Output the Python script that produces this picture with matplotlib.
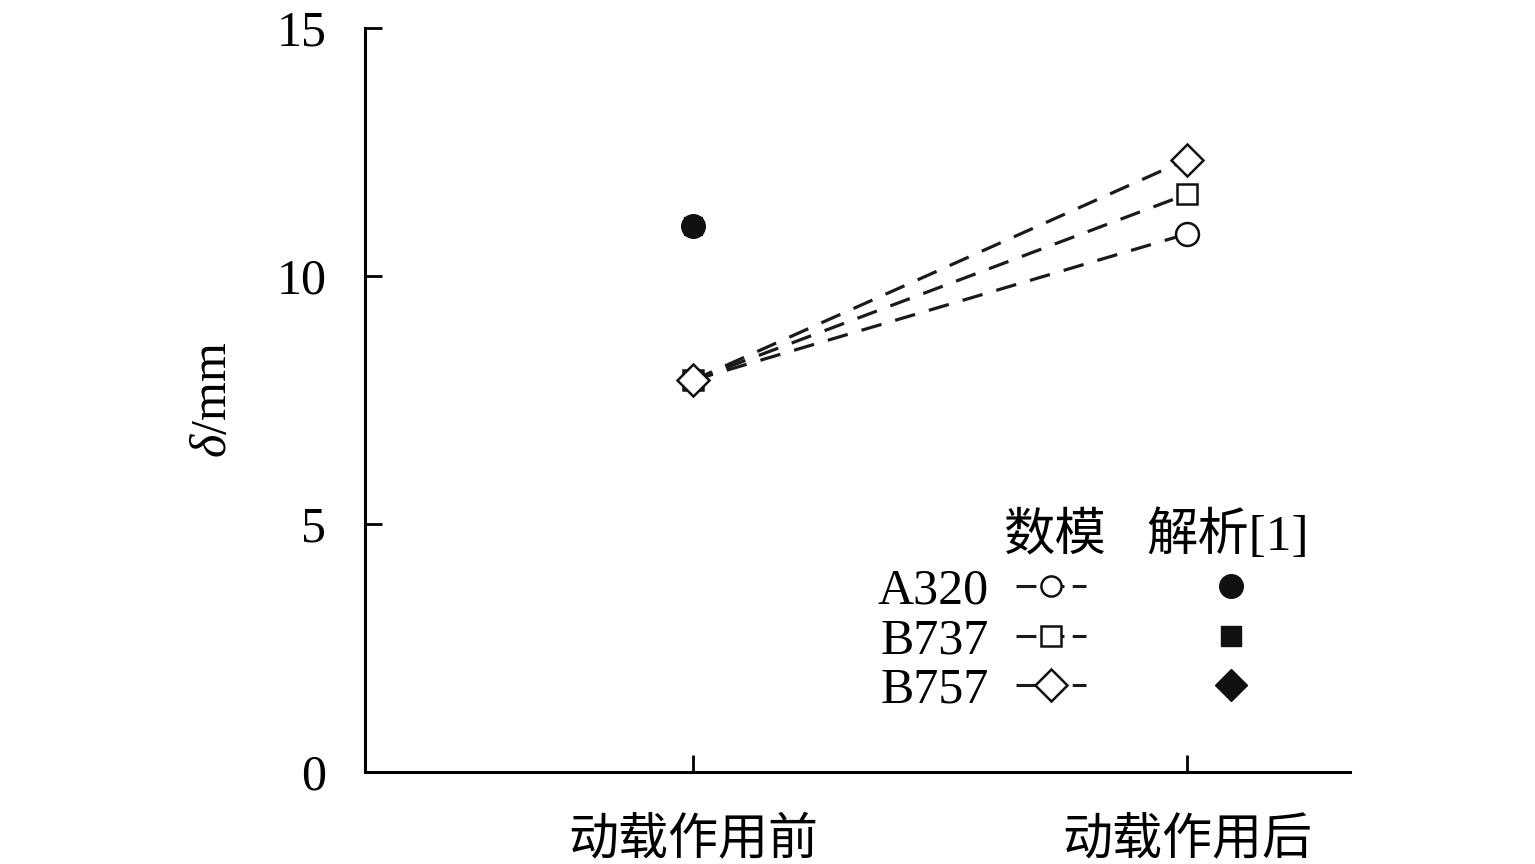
import numpy as np
import matplotlib
matplotlib.use('Agg')
import matplotlib.pyplot as plt
from matplotlib.lines import Line2D

plt.rcParams['font.family'] = ['Liberation Serif', 'Noto Sans CJK SC']
plt.rcParams['mathtext.fontset'] = 'custom'
plt.rcParams['mathtext.rm'] = 'Liberation Serif'
plt.rcParams['mathtext.it'] = 'Liberation Serif:italic'

# data
stages = ['动载作用前', '动载作用后']
aircraft = ['A320', 'B737', 'B757']
markers = ['o', 's', 'D']
numeric = [[7.9, 10.85], [7.9, 11.65], [7.9, 12.35]]   # 数模
analytic = [11.0, 11.0, 11.0]                          # 解析[1], before only

fig = plt.figure(figsize=(15.35, 8.64), dpi=100)
ax = fig.add_axes([0.2378, 0.1065, 0.6417, 0.861])

x = np.arange(1, len(stages) + 1)
open_ms = [16.5, 14.5, 16.5]
fill_ms = [17, 13, 12]
leg_open_ms = [14.5, 14, 16.5]
leg_fill_ms = [17, 14, 16.5]
num_handles = []
ana_handles = []
for i, name in enumerate(aircraft):
    ax.plot(x, numeric[i], linestyle=(0, (6.5, 4.5)), color='#1a1a1a', lw=2.3,
            marker=markers[i], ms=open_ms[i], mfc='white', mec='#111111', mew=1.8)
    ax.plot(x[:1], analytic[i:i + 1], linestyle='none', marker=markers[i],
            ms=fill_ms[i], color='#111111')
    num_handles.append(Line2D([], [], linestyle=(0, (6.5, 2.7)), color='#1a1a1a', lw=2.2,
                              marker=markers[i], ms=leg_open_ms[i], mfc='white',
                              mec='#111111', mew=1.8))
    ana_handles.append(Line2D([], [], linestyle='none', marker=markers[i],
                              ms=leg_fill_ms[i], color='#111111'))

ax.set_xlim(0.336, 2.33)
ax.set_ylim(0, 15)
ax.set_xticks(x)
ax.set_xticklabels(stages)
ax.set_yticks([0, 5, 10, 15])
ax.tick_params(direction='in', length=12, width=2, labelsize=36)
ax.tick_params(axis='y', pad=28)
ax.tick_params(axis='x', pad=33)
for s in ['top', 'right']:
    ax.spines[s].set_visible(False)
for s in ['left', 'bottom']:
    ax.spines[s].set_linewidth(2.2)
ax.set_ylabel(r'$\delta$/mm', fontsize=36, labelpad=28)

leg = ax.legend(num_handles + ana_handles, aircraft + [''] * 3, ncol=2,
                markerfirst=False, frameon=False, fontsize=36, handlelength=1.4,
                handletextpad=0.54, columnspacing=1.66, labelspacing=0.06,
                loc='lower left', bbox_to_anchor=(0.4746, 0.018))
ax.text(0.648, 0.284, '数模', transform=ax.transAxes, fontsize=37, ha='left', va='bottom')
ax.text(0.793, 0.284, '解析[1]', transform=ax.transAxes, fontsize=37, ha='left', va='bottom')

fig.savefig('out.png', dpi=100)
